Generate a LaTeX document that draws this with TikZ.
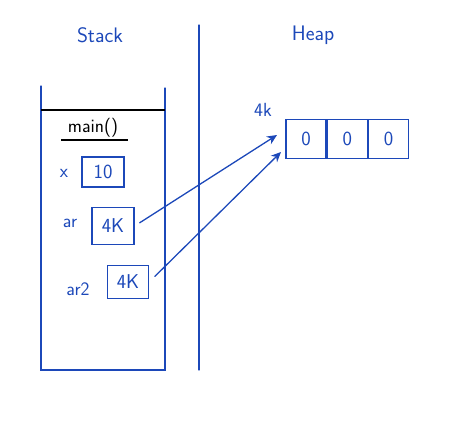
\documentclass[tikz,border=0pt]{standalone}
\usepackage{tikz}
\usetikzlibrary{arrows.meta,positioning,calc}

\definecolor{ink}{RGB}{28,72,185}

\tikzset{
  ink line/.style={draw=ink, line width=1.3pt, line cap=round},
  slot/.style={draw=ink, line width=1.3pt, text=ink, inner sep=0pt, font=\fontsize{20}{22}\selectfont\sffamily},
  cell/.style={slot, minimum width=40pt, minimum height=39pt},
  lbl/.style={text=ink, font=\fontsize{19}{22}\selectfont\sffamily},
  ptr/.style={ink line, -{Stealth[length=10pt,width=9pt]}}
}

\begin{document}
\begin{tikzpicture}[x=1pt,y=-1pt]
    \useasboundingbox (0,0) rectangle (462,422);

    % Titles
    \node[lbl, font=\fontsize{21}{24}\selectfont\sffamily] (stacktitle) at (100,35) {Stack};
    \node[lbl, font=\fontsize{21}{24}\selectfont\sffamily] (heaptitle) at (313,35) {Heap};

    % Divider
    \draw[ink line] (199,25) -- (199,370);

    % Stack frame
    \draw[ink line] (41,86) -- (41,370) -- (165,370) -- (165,88);
    \draw[line width=1.3pt] (41,110) -- (165,110);
    \node[font=\fontsize{19}{22}\selectfont\sffamily] (frame) at (93,128) {main()};
    \draw[line width=1.2pt] (61,140) -- (128,140);

    % Locals
    \node[lbl] (xname) at (64,173) {x};
    \node[slot, minimum width=42pt, minimum height=30pt] (xval) at (103,172) {10};
    \node[lbl] (arname) at (70,223) {ar};
    \node[slot, minimum width=42pt, minimum height=37pt] (arval) at (113,226) {4K};
    \node[lbl] (artwoname) at (78,289) {ar2};
    \node[slot, minimum width=41pt, minimum height=33pt] (artwoval) at (128,282) {4K};

    % Heap array
    \node[cell] (c1) at (306,139) {0};
    \node[cell, right=0pt of c1] (c2) {0};
    \node[cell, right=0pt of c2] (c3) {0};
    \node[lbl] (addr) at (263,110) {4k};

    % References
    \coordinate (tipa) at (277,135);
    \coordinate (tipb) at (281,152);
    \draw[ptr, shorten <=6pt] (arval.east) -- (tipa);
    \draw[ptr, shorten <=8pt] (artwoval.east) -- (tipb);
\end{tikzpicture}
\end{document}
